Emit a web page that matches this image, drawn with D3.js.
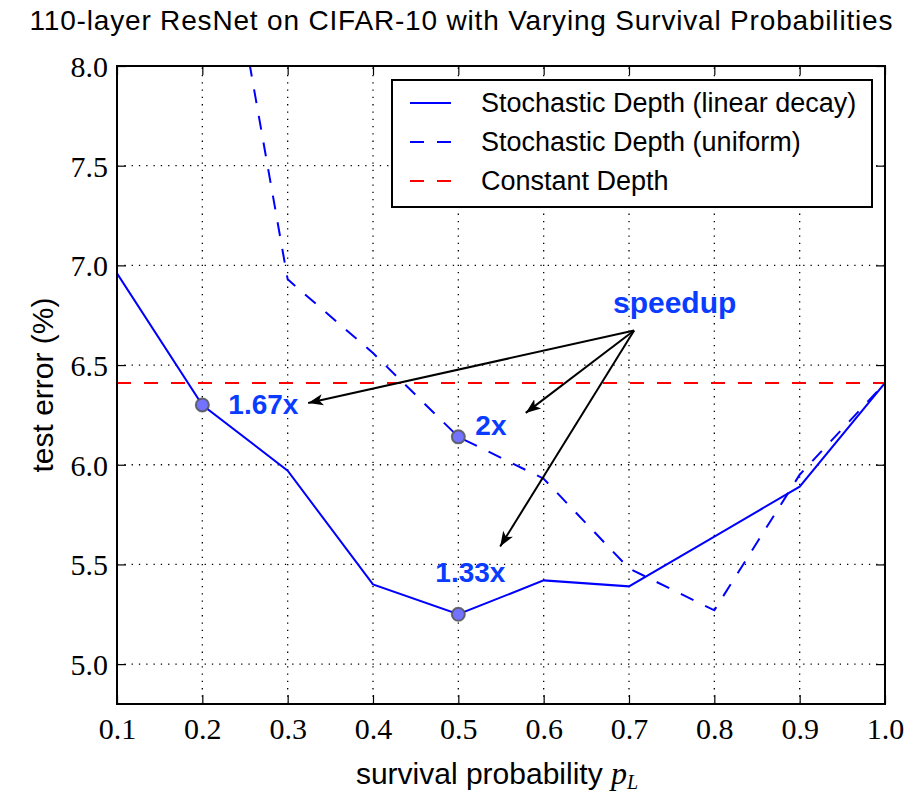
<!DOCTYPE html>
<html><head><meta charset="utf-8">
<script src="https://cdn.jsdelivr.net/npm/d3@7"></script>
<style>body{margin:0;background:#fff;} svg{display:block;}</style>
</head><body>
<script>
// ---- data ----
const probs = [0.1, 0.2, 0.3, 0.4, 0.5, 0.6, 0.7, 0.8, 0.9, 1.0];
const linearDecay = [6.96, 6.30, 5.97, 5.40, 5.25, 5.42, 5.39, 5.64, 5.89, 6.41];
const uniformProbs = [0.2, 0.3, 0.4, 0.5, 0.6, 0.7, 0.8, 0.9, 1.0];
const uniform = [9.35, 6.93, 6.56, 6.14, 5.93, 5.48, 5.27, 5.95, 6.41];
const constantDepth = 6.41;
const xTicks = [0.1, 0.2, 0.3, 0.4, 0.5, 0.6, 0.7, 0.8, 0.9, 1.0];
const yTicks = [5.0, 5.5, 6.0, 6.5, 7.0, 7.5, 8.0];
const markers = [{x: 0.2, y: 6.30}, {x: 0.5, y: 6.14}, {x: 0.5, y: 5.25}];
const speedLabels = [{t: "1.67x", x: 0.2, y: 6.30}, {t: "2x", x: 0.5, y: 6.14}, {t: "1.33x", x: 0.5, y: 5.25}];
const arrowFrom = {x: 0.706, y: 6.673};
const arrowTips = [{x: 0.324, y: 6.31}, {x: 0.579, y: 6.26}, {x: 0.549, y: 5.59}];
const legendItems = ["Stochastic Depth (linear decay)", "Stochastic Depth (uniform)", "Constant Depth"];

const W = 906, H = 797;
const L = 117, R = 885, T = 66, B = 704;
const svg = d3.select("body").append("svg").attr("width", W).attr("height", H);
const x = d3.scaleLinear().domain([0.1, 1.0]).range([L, R]);
const y = d3.scaleLinear().domain([4.8, 8.0]).range([B, T]);

const sans = "'Liberation Sans', Arial, Helvetica, sans-serif";
const serif = "'Liberation Serif', 'DejaVu Serif', serif";
const blue = "#0000ff", annBlue = "#0a3cff";
const dash = "14,13";

svg.append("defs").append("clipPath").attr("id", "clip")
  .append("rect").attr("x", L).attr("y", T).attr("width", R - L).attr("height", B - T);

// grid
const grid = svg.append("g").attr("stroke", "#000").attr("stroke-width", 1.3).attr("stroke-dasharray", "1.3,6");
grid.selectAll(".gx").data(xTicks.slice(1, -1)).join("line")
  .attr("x1", d => x(d)).attr("x2", d => x(d)).attr("y1", B).attr("y2", T);
grid.selectAll(".gy").data(yTicks.slice(0, -1)).join("line")
  .attr("y1", d => y(d)).attr("y2", d => y(d)).attr("x1", L).attr("x2", R);

// axes with inward ticks
const tl = 9;
const axB = svg.append("g").attr("transform", `translate(0,${B})`)
  .call(d3.axisBottom(x).tickValues(xTicks).tickFormat(d3.format(".1f")).tickSizeInner(-tl).tickSizeOuter(0).tickPadding(14));
const axT = svg.append("g").attr("transform", `translate(0,${T})`)
  .call(d3.axisTop(x).tickValues(xTicks).tickFormat("").tickSizeInner(-tl).tickSizeOuter(0));
const axL = svg.append("g").attr("transform", `translate(${L},0)`)
  .call(d3.axisLeft(y).tickValues(yTicks).tickFormat(d3.format(".1f")).tickSizeInner(-tl).tickSizeOuter(0).tickPadding(9));
const axR = svg.append("g").attr("transform", `translate(${R},0)`)
  .call(d3.axisRight(y).tickValues(yTicks).tickFormat("").tickSizeInner(-tl).tickSizeOuter(0));
[axB, axT, axL, axR].forEach(a => {
  a.select(".domain").remove();
  a.selectAll(".tick line").attr("stroke", "#000").attr("stroke-width", 1.2);
  a.selectAll(".tick text").attr("font-family", serif).attr("font-size", 30).attr("fill", "#000");
});
axL.selectAll(".tick text").attr("dy", "0.35em");

// lines
const g = svg.append("g").attr("clip-path", "url(#clip)");
const line = d3.line().x(d => x(d[0])).y(d => y(d[1]));
g.append("path").datum(probs.map((p, i) => [p, linearDecay[i]]))
  .attr("d", line).attr("fill", "none").attr("stroke", blue).attr("stroke-width", 2);
g.append("path").datum(uniformProbs.map((p, i) => [p, uniform[i]]))
  .attr("d", line).attr("fill", "none").attr("stroke", blue).attr("stroke-width", 2).attr("stroke-dasharray", dash);
g.append("line").attr("x1", x(0.1)).attr("x2", x(1.0)).attr("y1", y(constantDepth)).attr("y2", y(constantDepth))
  .attr("stroke", "#ff0000").attr("stroke-width", 2).attr("stroke-dasharray", dash);

// markers
svg.selectAll(".mk").data(markers).join("circle")
  .attr("cx", d => x(d.x)).attr("cy", d => y(d.y)).attr("r", 6.5)
  .attr("fill", "#7373ff").attr("stroke", "#555").attr("stroke-opacity", 0.85).attr("stroke-width", 2);

// frame
svg.append("rect").attr("x", L).attr("y", T).attr("width", R - L).attr("height", B - T)
  .attr("fill", "none").attr("stroke", "#000").attr("stroke-width", 2);

// arrows
const defs = svg.select("defs");
defs.append("marker").attr("id", "ah").attr("viewBox", "0 0 10 10").attr("refX", 10).attr("refY", 5)
  .attr("markerWidth", 15).attr("markerHeight", 15).attr("markerUnits", "userSpaceOnUse").attr("orient", "auto")
  .append("path").attr("d", "M0,1.2 L10,5 L0,8.8 L2.5,5 Z").attr("fill", "#000");
svg.selectAll(".arr").data(arrowTips).join("line")
  .attr("x1", x(arrowFrom.x)).attr("y1", y(arrowFrom.y))
  .attr("x2", d => x(d.x)).attr("y2", d => y(d.y))
  .attr("stroke", "#000").attr("stroke-width", 2).attr("marker-end", "url(#ah)");

// annotation text
const ann = svg.append("g").attr("font-family", sans).attr("font-weight", "bold").attr("fill", annBlue);
ann.append("text").attr("x", x(0.7535)).attr("y", 313).attr("text-anchor", "middle").attr("font-size", 30).text("speedup");
const offs = [[26, 9], [17, -2], [-23, -32]];
ann.selectAll(".sl").data(speedLabels).join("text")
  .attr("font-size", 28)
  .attr("x", (d, i) => x(d.x) + offs[i][0])
  .attr("y", (d, i) => y(d.y) + offs[i][1])
  .text(d => d.t);

// legend
const lg = svg.append("g");
lg.append("rect").attr("x", 392).attr("y", 80).attr("width", 480).attr("height", 127)
  .attr("fill", "#fff").attr("stroke", "#000").attr("stroke-width", 2);
const styles = [{c: blue, d: null}, {c: blue, d: dash}, {c: "#ff0000", d: dash}];
legendItems.forEach((t, i) => {
  const yy = 103 + i * 39;
  lg.append("line").attr("x1", 410).attr("x2", 451).attr("y1", yy).attr("y2", yy)
    .attr("stroke", styles[i].c).attr("stroke-width", 2).attr("stroke-dasharray", styles[i].d);
  lg.append("text").attr("x", 481).attr("y", yy).attr("dy", "0.35em")
    .attr("font-family", sans).attr("font-size", 27).attr("fill", "#000").text(t);
});

// title and axis labels
svg.append("text").attr("x", 461).attr("y", 30).attr("text-anchor", "middle")
  .attr("font-family", sans).attr("font-size", 28).attr("fill", "#000")
  .attr("textLength", 863).attr("lengthAdjust", "spacing")
  .text("110-layer ResNet on CIFAR-10 with Varying Survival Probabilities");
svg.append("text").attr("transform", `translate(53,${(T + B) / 2}) rotate(-90)`).attr("text-anchor", "middle")
  .attr("font-family", sans).attr("font-size", 30).attr("fill", "#000").text("test error (%)");
const xl = svg.append("text").attr("x", 497).attr("y", 784).attr("text-anchor", "middle")
  .attr("font-family", sans).attr("font-size", 30).attr("fill", "#000");
xl.append("tspan").text("survival probability ");
xl.append("tspan").attr("font-family", serif).attr("font-style", "italic").attr("font-size", 32).text("p");
xl.append("tspan").attr("font-family", serif).attr("font-style", "italic").attr("font-size", 20).attr("dy", 5).text("L");
</script>
</body></html>
